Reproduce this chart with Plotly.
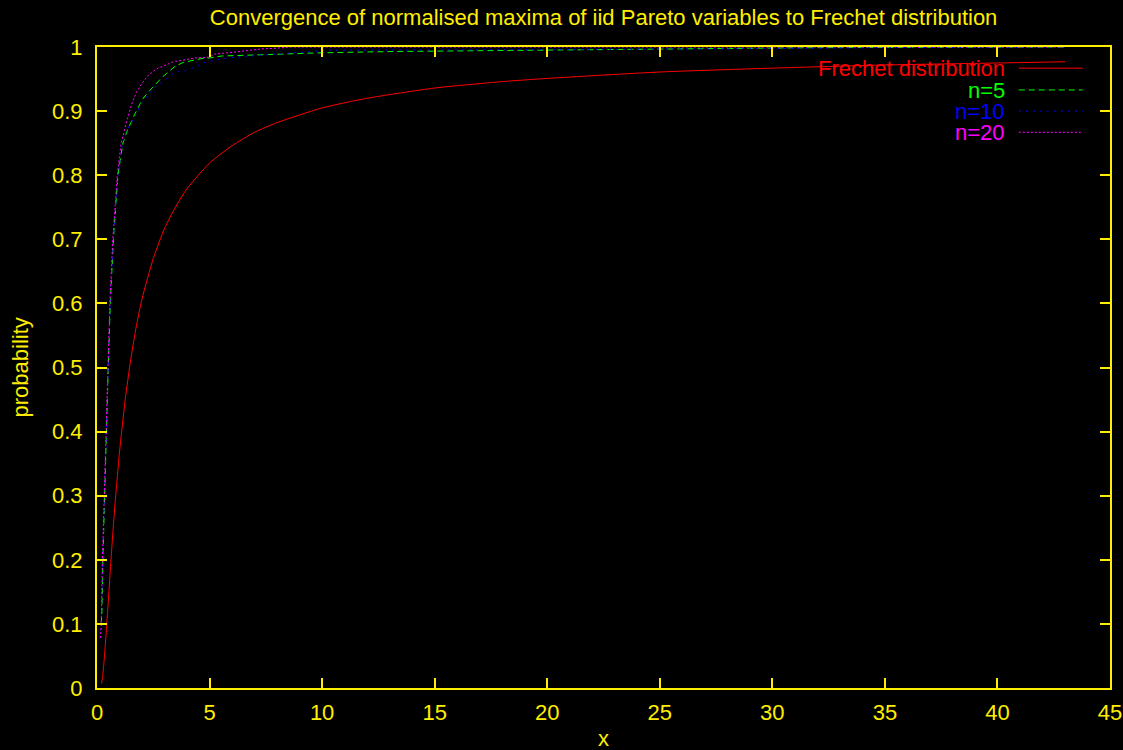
import plotly.graph_objects as go

# ---------------- data ----------------
frechet_x = [0.2, 0.25, 0.3, 0.4, 0.5, 0.6, 0.7, 0.8, 1.0, 1.25, 1.5, 1.75, 2.0, 2.5, 3.0, 3.5,
             4.0, 5.0, 6.0, 7.0, 8.0, 10.0, 12.0, 15.0, 18.0, 20.0, 25.0, 30.0, 35.0, 40.0, 43.0]
frechet_y = [0.007, 0.018, 0.036, 0.082, 0.135, 0.189, 0.240, 0.287, 0.368, 0.449, 0.513,
             0.565, 0.607, 0.670, 0.717, 0.751, 0.779, 0.819, 0.846, 0.867, 0.882, 0.905,
             0.920, 0.936, 0.946, 0.951, 0.961, 0.967, 0.972, 0.975, 0.977]

n5_x = [0.19, 0.22, 0.26, 0.33, 0.40, 0.50, 0.59, 0.73, 0.93, 1.15, 1.35, 1.54, 1.69, 1.84,
        1.99, 2.21, 2.43, 2.65, 2.87, 3.17, 3.47, 3.84, 4.21, 4.65, 5.02, 5.54, 6.5, 7.9,
        10.0, 13.2, 19.8, 25.0, 32.0, 43.0]
n5_y = [0.10, 0.12, 0.20, 0.30, 0.40, 0.50, 0.60, 0.70, 0.80, 0.85, 0.87, 0.886, 0.896, 0.906,
        0.917, 0.927, 0.935, 0.943, 0.952, 0.961, 0.970, 0.976, 0.979, 0.982, 0.983, 0.986,
        0.987, 0.989, 0.991, 0.993, 0.995, 0.997, 0.999, 1.0]

n10_x = [0.17, 0.20, 0.25, 0.33, 0.39, 0.50, 0.59, 0.73, 0.93, 1.13, 1.32, 1.54, 1.76, 1.99,
         2.28, 2.65, 3.02, 3.24, 3.54, 3.91, 4.21, 4.58, 4.87, 5.24, 5.61, 6.13, 6.73, 7.32,
         7.91, 10.4, 14.4, 20.0, 28.0, 35.0, 43.0]
n10_y = [0.09, 0.11, 0.20, 0.30, 0.40, 0.50, 0.60, 0.70, 0.80, 0.85, 0.87, 0.883, 0.896, 0.914,
         0.925, 0.940, 0.948, 0.956, 0.961, 0.963, 0.967, 0.972, 0.977, 0.979, 0.982, 0.984,
         0.986, 0.988, 0.989, 0.995, 0.995, 0.996, 0.997, 0.999, 1.0]

n20_x = [0.16, 0.19, 0.24, 0.32, 0.38, 0.48, 0.57, 0.70, 0.90, 1.07, 1.2, 1.35, 1.57, 1.76,
         1.99, 2.28, 2.65, 3.02, 3.39, 3.76, 4.36, 4.95, 5.24, 5.84, 6.58, 7.32, 7.91, 8.6,
         20.0, 43.0]
n20_y = [0.078, 0.10, 0.20, 0.30, 0.40, 0.50, 0.60, 0.70, 0.80, 0.85, 0.87, 0.888, 0.914, 0.930,
         0.943, 0.956, 0.966, 0.972, 0.977, 0.979, 0.983, 0.984, 0.989, 0.991, 0.994, 0.997,
         0.998, 1.0, 1.0, 1.0]

x_ticks = [0, 5, 10, 15, 20, 25, 30, 35, 40, 45]
y_ticks = [0, 0.1, 0.2, 0.3, 0.4, 0.5, 0.6, 0.7, 0.8, 0.9, 1]
y_tick_text = ["0", "0.1", "0.2", "0.3", "0.4", "0.5", "0.6", "0.7", "0.8", "0.9", "1"]

series_names = ["Frechet distribution", "n=5", "n=10", "n=20"]
series_colors = ["#ff0000", "#00ff00", "#0000ff", "#ff00ff"]
series_dash = ["solid", "6px,4px", "2px,5px", "2px,2px"]
series_shape = ["spline", "linear", "linear", "linear"]

TITLE = "Convergence of normalised maxima of iid Pareto variables to Frechet distribution"
AXIS_COLOR = "#ffee00"
FONT = "Liberation Sans, Arial, sans-serif"
FS = 22

# ---------------- figure ----------------
fig = go.Figure()
data = [(frechet_x, frechet_y), (n5_x, n5_y), (n10_x, n10_y), (n20_x, n20_y)]
for (xs, ys), name, col, dash, shp in zip(data, series_names, series_colors, series_dash,
                                          series_shape):
    fig.add_trace(go.Scatter(x=xs, y=ys, mode="lines", name=name,
                             line=dict(color=col, width=1, dash=dash, shape=shp,
                                       smoothing=0.6 if shp == "spline" else None),
                             showlegend=False))

# gnuplot-style legend: right-aligned text, sample line to the right
leg_y = [0.967, 0.933, 0.900, 0.867]
for name, col, dash, ly in zip(series_names, series_colors, series_dash, leg_y):
    fig.add_annotation(x=0.898, y=ly, xref="paper", yref="paper", text=name,
                       showarrow=False, xanchor="right", yanchor="middle", height=20,
                       font=dict(color=col, size=FS, family=FONT))
    fig.add_shape(type="line", xref="paper", yref="paper", x0=0.910, x1=0.973,
                  y0=ly, y1=ly, line=dict(color=col, width=1, dash=dash))

fig.add_annotation(x=0.5, y=-0.0780, xref="paper", yref="paper", text="x",
                   showarrow=False, xanchor="center", yanchor="middle", height=18,
                   font=dict(color=AXIS_COLOR, size=FS, family=FONT))
fig.add_annotation(x=-0.076, y=0.5, xref="paper", yref="paper", text="probability",
                   showarrow=False, xanchor="center", yanchor="middle", textangle=-90,
                   font=dict(color=AXIS_COLOR, size=FS, family=FONT))

axis_common = dict(showline=True, linecolor=AXIS_COLOR, linewidth=2, mirror="ticks",
                   ticks="inside", ticklen=10, tickwidth=1.5, tickcolor=AXIS_COLOR,
                   showgrid=False, zeroline=False, automargin=False,
                   tickfont=dict(color=AXIS_COLOR, size=FS, family=FONT))

fig.update_layout(
    width=1123, height=750,
    paper_bgcolor="black", plot_bgcolor="black",
    margin=dict(l=97, r=13, t=47, b=62, autoexpand=False),
    title=dict(text=TITLE, x=0.5375, xanchor="center", y=0.977, yanchor="middle",
               yref="container", automargin=False,
               font=dict(color=AXIS_COLOR, size=FS, family=FONT)),
    xaxis=dict(range=[0, 45], tickvals=x_ticks, ticklabelstandoff=4, **axis_common),
    yaxis=dict(range=[0, 1], tickvals=y_ticks, ticktext=y_tick_text, ticklabelstandoff=8,
               **axis_common),
    font=dict(family=FONT, color=AXIS_COLOR),
)

fig.write_html("out.html")
